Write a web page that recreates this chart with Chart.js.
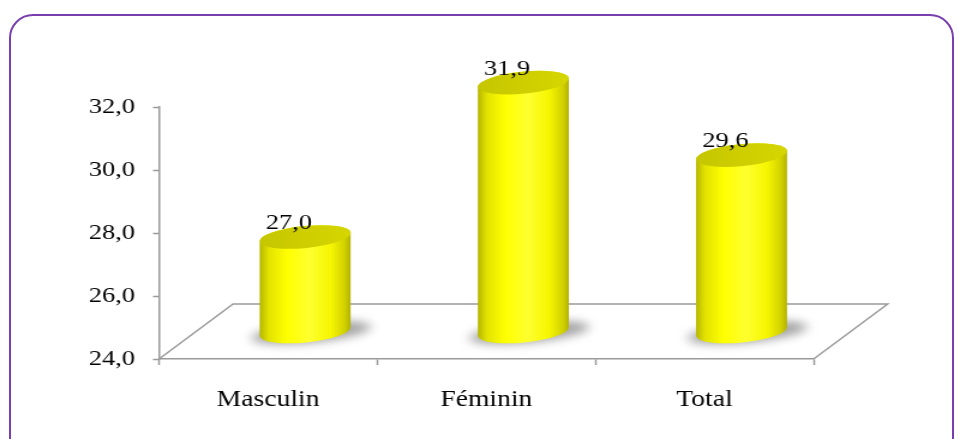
<!DOCTYPE html>
<html lang="fr">
<head>
    <meta charset="UTF-8">
    <title>Masculin / Féminin / Total</title>
    <script src="https://cdn.jsdelivr.net/npm/chart.js@4.4.1/dist/chart.umd.min.js"></script>
    <style>
        body {
            margin: 0;
            background: #ffffff;
            width: 959px;
            height: 439px;
            overflow: hidden;
            position: relative;
        }
        .frame {
            position: absolute;
            left: 9px;
            top: 14px;
            width: 945px;
            height: 470px;
            box-sizing: border-box;
            border: 2px solid #7a3fae;
            border-radius: 24px;
        }
        /* the original picture is stretched sideways */
        .stretch {
            position: absolute;
            left: 0;
            top: 0;
            transform: scaleX(1.2);
            transform-origin: 0 0;
        }
    </style>
</head>
<body>
    <div class="frame"></div>
    <div class="stretch">
        <canvas id="chart" width="799" height="439"></canvas>
    </div>

    <script>
        const categories = ['Masculin', 'Féminin', 'Total'];
        const values = [27.0, 31.9, 29.6];
        const yTicks = [24, 26, 28, 30, 32];

        const fmt = v => v.toFixed(1).replace('.', ',');
        const DX = 61.7;   // depth of the floor
        const DY = 55;
        const axisColor = '#9a9a9a';
        const serif = '"Liberation Serif", "Times New Roman", serif';

        const cylinders = {
            id: 'cylinders',
            beforeDatasetsDraw(chart) {
                const ctx = chart.ctx;
                const a = chart.chartArea;
                const b = chart.scales.y.getPixelForValue(yTicks[0]);
                ctx.save();
                ctx.strokeStyle = axisColor;
                ctx.lineWidth = 1.5;
                ctx.beginPath();
                ctx.moveTo(a.left, b);
                ctx.lineTo(a.left + DX, b - DY);
                ctx.lineTo(a.right + DX, b - DY);
                ctx.lineTo(a.right, b);
                ctx.stroke();
                ctx.restore();
            },
            afterDatasetsDraw(chart) {
                const ctx = chart.ctx;
                const meta = chart.getDatasetMeta(0);
                const floor = chart.scales.y.getPixelForValue(yTicks[0]);
                const tilt = -0.12;
                meta.data.forEach((bar, i) => {
                    const rx = bar.width / 2;
                    const ry = 11;
                    const cx = bar.x + DX / 2;
                    const by = floor - DY / 2;
                    const ty = bar.y - DY / 2;

                    ctx.save();
                    // shadow on the floor
                    ctx.filter = 'blur(5px)';
                    ctx.fillStyle = 'rgba(90,90,90,0.55)';
                    ctx.beginPath();
                    ctx.ellipse(cx + 5, by + 1, rx + 12, ry - 1, tilt, 0, Math.PI * 2);
                    ctx.fill();
                    ctx.filter = 'none';

                    // side of the cylinder
                    const g = ctx.createLinearGradient(cx - rx, 0, cx + rx, 0);
                    g.addColorStop(0, '#b4b400');
                    g.addColorStop(0.1, '#e2e200');
                    g.addColorStop(0.3, '#ffff00');
                    g.addColorStop(0.55, '#ffff30');
                    g.addColorStop(0.78, '#f6f600');
                    g.addColorStop(0.93, '#d2d200');
                    g.addColorStop(1, '#b0b000');
                    ctx.fillStyle = g;
                    ctx.beginPath();
                    ctx.ellipse(cx, by, rx, ry, tilt, 0, Math.PI);
                    ctx.ellipse(cx, ty, rx, ry, tilt, Math.PI, Math.PI * 2);
                    ctx.closePath();
                    ctx.fill();

                    // top
                    const t = ctx.createLinearGradient(cx - rx, 0, cx + rx, 0);
                    t.addColorStop(0, '#c6c600');
                    t.addColorStop(1, '#d6d600');
                    ctx.fillStyle = t;
                    ctx.beginPath();
                    ctx.ellipse(cx, ty, rx, ry, tilt, 0, Math.PI * 2);
                    ctx.fill();

                    // value label
                    ctx.fillStyle = '#000';
                    ctx.font = '22px ' + serif;
                    ctx.textAlign = 'center';
                    ctx.textBaseline = 'alphabetic';
                    ctx.fillText(fmt(values[i]), cx - 13.5, ty - 8);
                    ctx.restore();
                });
            }
        };

        new Chart(document.getElementById('chart'), {
            type: 'bar',
            data: {
                labels: categories,
                datasets: [{
                    data: values,
                    backgroundColor: 'rgba(0,0,0,0)',
                    borderWidth: 0,
                    categoryPercentage: 1,
                    barPercentage: 0.42
                }]
            },
            options: {
                responsive: false,
                animation: false,
                devicePixelRatio: 1,
                layout: { padding: { top: 107, right: 121, bottom: 0, left: 0 } },
                plugins: {
                    legend: { display: false },
                    tooltip: { enabled: false }
                },
                scales: {
                    y: {
                        min: yTicks[0],
                        max: yTicks[yTicks.length - 1],
                        afterBuildTicks: s => { s.ticks = yTicks.map(v => ({ value: v })); },
                        afterFit: s => { s.width = 132.5; },
                        ticks: {
                            color: '#000',
                            font: { family: serif, size: 22 },
                            padding: 15,
                            callback: v => fmt(v)
                        },
                        grid: {
                            drawOnChartArea: false,
                            tickLength: 5,
                            tickColor: axisColor,
                            tickWidth: 1.5
                        },
                        border: { color: axisColor, width: 1.5 }
                    },
                    x: {
                        afterFit: s => { s.height = 80; },
                        ticks: {
                            color: '#000',
                            font: { family: serif, size: 23 },
                            padding: 21
                        },
                        grid: {
                            offset: true,
                            drawOnChartArea: false,
                            tickLength: 6,
                            tickColor: axisColor,
                            tickWidth: 1.5
                        },
                        border: { color: axisColor, width: 1.5 }
                    }
                }
            },
            plugins: [cylinders]
        });
    </script>
</body>
</html>
